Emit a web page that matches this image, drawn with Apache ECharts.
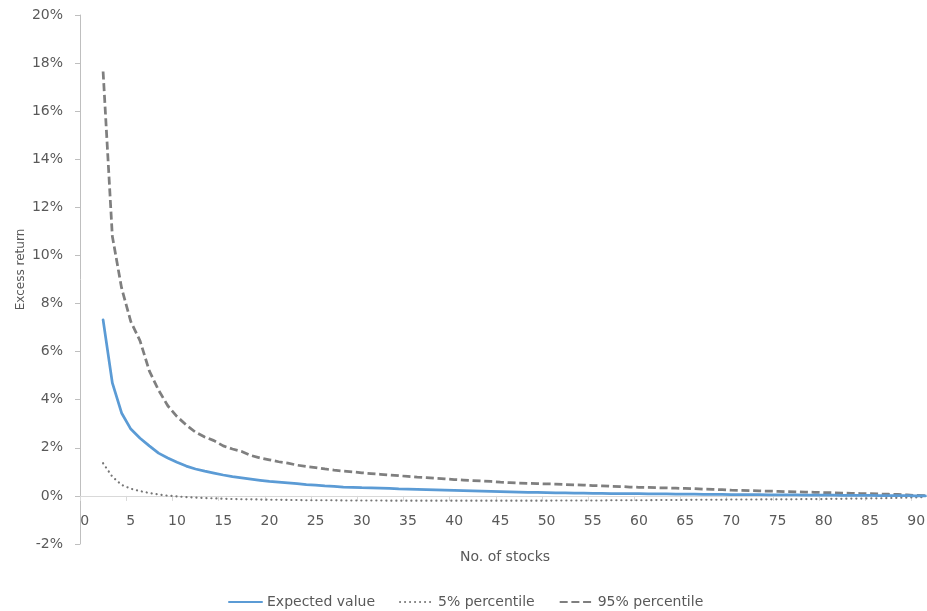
<!DOCTYPE html>
<html>
<head>
<meta charset="utf-8">
<script src="https://cdn.jsdelivr.net/npm/echarts@6/dist/echarts.min.js"></script>
<style>
html,body{margin:0;padding:0;background:#fff;}
#chart{width:927px;height:611px;}
</style>
</head>
<body>
<div id="chart"></div>
<script>
// categories: number of stocks 0..91
const categories = [];
for (let i = 0; i <= 91; i++) categories.push(String(i));

// values in percent, starting at 2 stocks (0 and 1 have no value)
const expectedValue = [null, null,
  7.32, 4.70, 3.45, 2.78, 2.40, 2.08, 1.78, 1.58, 1.40, 1.24,
  1.12, 1.03, 0.95, 0.87, 0.80, 0.75, 0.70, 0.65, 0.60, 0.57,
  0.54, 0.51, 0.47, 0.45, 0.42, 0.40, 0.37, 0.36, 0.34, 0.33,
  0.32, 0.31, 0.29, 0.28, 0.27, 0.26, 0.25, 0.24, 0.23, 0.22,
  0.21, 0.20, 0.19, 0.18, 0.17, 0.16, 0.15, 0.15, 0.14, 0.13,
  0.13, 0.12, 0.12, 0.11, 0.11, 0.10, 0.10, 0.09, 0.09, 0.08,
  0.08, 0.08, 0.07, 0.07, 0.07, 0.06, 0.06, 0.06, 0.05, 0.05,
  0.05, 0.05, 0.04, 0.04, 0.04, 0.04, 0.03, 0.03, 0.03, 0.03,
  0.02, 0.02, 0.02, 0.02, 0.01, 0.01, 0.01, 0.01, 0.00, 0.00];

const pct5 = [null, null,
  1.36, 0.80, 0.46, 0.30, 0.20, 0.12, 0.06, 0.01, -0.02, -0.05,
  -0.07, -0.09, -0.10, -0.12, -0.13, -0.14, -0.14, -0.15, -0.16, -0.16,
  -0.17, -0.17, -0.18, -0.18, -0.18, -0.18, -0.19, -0.19, -0.19, -0.19,
  -0.19, -0.20, -0.20, -0.20, -0.20, -0.20, -0.20, -0.20, -0.20, -0.20,
  -0.20, -0.20, -0.20, -0.20, -0.20, -0.20, -0.20, -0.20, -0.20, -0.19,
  -0.19, -0.19, -0.19, -0.19, -0.19, -0.18, -0.18, -0.18, -0.18, -0.18,
  -0.17, -0.17, -0.17, -0.17, -0.16, -0.16, -0.16, -0.16, -0.15, -0.15,
  -0.15, -0.15, -0.14, -0.14, -0.14, -0.14, -0.13, -0.13, -0.13, -0.12,
  -0.12, -0.11, -0.11, -0.10, -0.10, -0.09, -0.08, -0.07, -0.06, -0.05];

const pct95 = [null, null,
  17.65, 10.80, 8.65, 7.25, 6.45, 5.20, 4.40, 3.75, 3.30, 2.95,
  2.65, 2.45, 2.30, 2.08, 1.95, 1.85, 1.68, 1.58, 1.50, 1.42,
  1.36, 1.28, 1.22, 1.18, 1.12, 1.07, 1.03, 1.00, 0.96, 0.93,
  0.90, 0.87, 0.84, 0.81, 0.78, 0.76, 0.73, 0.71, 0.68, 0.66,
  0.64, 0.62, 0.60, 0.57, 0.55, 0.53, 0.52, 0.51, 0.50, 0.49,
  0.47, 0.46, 0.45, 0.43, 0.42, 0.40, 0.39, 0.37, 0.36, 0.35,
  0.34, 0.33, 0.32, 0.31, 0.30, 0.28, 0.27, 0.26, 0.24, 0.23,
  0.22, 0.21, 0.20, 0.19, 0.18, 0.17, 0.16, 0.15, 0.14, 0.13,
  0.12, 0.11, 0.10, 0.09, 0.08, 0.07, 0.06, 0.04, 0.02, 0.01];

const seriesNames = ['Expected value', '5% percentile', '95% percentile'];
const yMin = -2, yMax = 20, yStep = 2;

const FONT = '"DejaVu Sans"';
const TXT = '#595959';

const GRID_TOP = 15, GRID_BOTTOM = 67, H = 611;
const plotH = H - GRID_TOP - GRID_BOTTOM;
// place the category axis on the 0% line
const zeroOffset = -plotH * (0 - yMin) / (yMax - yMin);

const chart = echarts.init(document.getElementById('chart'), null, {renderer: 'canvas'});
chart.setOption({
  animation: false,
  backgroundColor: '#ffffff',
  textStyle: {fontFamily: FONT, color: TXT},
  grid: {left: 80, right: -3, top: GRID_TOP, bottom: GRID_BOTTOM, containLabel: false, outerBoundsMode: 'none'},
  legend: {
    data: seriesNames,
    left: 223,
    top: 590,
    itemWidth: 33,
    itemHeight: 10,
    itemGap: 24,
    itemStyle: {opacity: 0},
    textStyle: {fontFamily: FONT, fontSize: 14, color: TXT}
  },
  xAxis: {
    type: 'category',
    data: categories,
    boundaryGap: true,
    offset: zeroOffset,
    name: 'No. of stocks',
    nameLocation: 'middle',
    nameGap: 54,
    nameMoveOverlap: false,
    nameTextStyle: {fontFamily: FONT, fontSize: 14, color: TXT},
    axisLine: {show: true, onZero: false, lineStyle: {color: '#D9D9D9', width: 1}},
    axisTick: {show: true, interval: 4, alignWithLabel: false, length: 5, lineStyle: {color: '#D9D9D9'}},
    axisLabel: {interval: 4, margin: 18, fontFamily: FONT, fontSize: 14, color: TXT},
    splitLine: {show: false}
  },
  yAxis: {
    type: 'value',
    min: yMin,
    max: yMax,
    interval: yStep,
    name: 'Excess return',
    nameLocation: 'middle',
    nameGap: 53,
    nameMoveOverlap: false,
    nameTextStyle: {fontFamily: FONT, fontSize: 12, color: TXT, padding: [0, 0, 0, 20]},
    axisLine: {show: true, lineStyle: {color: '#BFBFBF', width: 1}},
    axisTick: {show: true, length: 5, lineStyle: {color: '#BFBFBF'}},
    axisLabel: {formatter: '{value}%', margin: 17, fontFamily: FONT, fontSize: 14, color: TXT},
    splitLine: {show: false}
  },
  series: [
    {
      name: seriesNames[0], type: 'line', data: expectedValue,
      symbol: 'none', connectNulls: false,
      lineStyle: {color: '#5B9BD5', width: 2.75, cap: 'round', join: 'round'},
      itemStyle: {color: '#5B9BD5'},
      z: 3
    },
    {
      name: seriesNames[1], type: 'line', data: pct5,
      symbol: 'none',
      lineStyle: {color: '#767676', width: 2.2, type: [0.1, 4.9], cap: 'round'},
      itemStyle: {color: '#767676'},
      z: 2
    },
    {
      name: seriesNames[2], type: 'line', data: pct95,
      symbol: 'none',
      lineStyle: {color: '#7F7F7F', width: 2.75, type: [8, 3.7], cap: 'butt'},
      itemStyle: {color: '#7F7F7F'},
      z: 2
    }
  ]
});
</script>
</body>
</html>
